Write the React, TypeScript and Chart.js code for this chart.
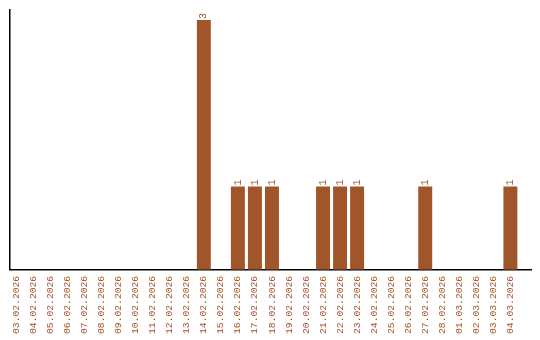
import React, { useEffect, useRef } from "react";
import { Chart, registerables } from "chart.js";

Chart.register(...registerables);

const categories = [
  "03.02.2026", "04.02.2026", "05.02.2026", "06.02.2026", "07.02.2026",
  "08.02.2026", "09.02.2026", "10.02.2026", "11.02.2026", "12.02.2026",
  "13.02.2026", "14.02.2026", "15.02.2026", "16.02.2026", "17.02.2026",
  "18.02.2026", "19.02.2026", "20.02.2026", "21.02.2026", "22.02.2026",
  "23.02.2026", "24.02.2026", "25.02.2026", "26.02.2026", "27.02.2026",
  "28.02.2026", "01.03.2026", "02.03.2026", "03.03.2026", "04.03.2026",
];
const counts = [
  0, 0, 0, 0, 0,
  0, 0, 0, 0, 0,
  0, 3, 0, 1, 1,
  1, 0, 0, 1, 1,
  1, 0, 0, 0, 1,
  0, 0, 0, 0, 1,
];

const BROWN = "#A0552A";
const FONT = "'Liberation Mono', 'Courier New', monospace";

const valueLabels = {
  id: "valueLabels",
  afterDatasetsDraw(chart: any) {
    const ctx = chart.ctx;
    const meta = chart.getDatasetMeta(0);
    ctx.save();
    ctx.fillStyle = BROWN;
    ctx.font = `10px ${FONT}`;
    ctx.textAlign = "left";
    ctx.textBaseline = "middle";
    meta.data.forEach((bar: any, i: number) => {
      const v = counts[i];
      if (!v) return;
      ctx.save();
      ctx.translate(bar.x, bar.y - 1);
      ctx.rotate(-Math.PI / 2);
      ctx.fillText(String(v), 0, 0);
      ctx.restore();
    });
    ctx.restore();
  },
};

export default function App() {
  const ref = useRef<HTMLCanvasElement>(null);
  useEffect(() => {
    document.body.style.margin = "0";
    const chart = new Chart(ref.current!, {
      type: "bar",
      data: {
        labels: categories,
        datasets: [
          {
            data: counts,
            backgroundColor: BROWN,
            borderWidth: 0,
            barPercentage: 0.82,
            categoryPercentage: 1,
          },
        ],
      },
      options: {
        animation: false,
        responsive: false,
        maintainAspectRatio: false,
        layout: { padding: { left: 2, right: 9, top: 10, bottom: 0 } },
        plugins: { legend: { display: false }, tooltip: { enabled: false } },
        scales: {
          x: {
            grid: { display: false, drawTicks: false, tickLength: 0 },
            border: { display: true, color: "#000", width: 1.5 },
            afterBuildTicks: (scale: any) => {
              // leave extra empty room at the right end of the axis
              scale._startValue = -0.38;
              scale._valueRange = 30.59;
            },
            ticks: {
              color: BROWN,
              font: { family: FONT, size: 9.7 },
              minRotation: 90,
              maxRotation: 90,
              autoSkip: false,
              padding: 6,
            },
          },
          y: {
            min: 0,
            max: 3.12,
            grid: { display: false },
            border: { display: true, color: "#000", width: 1.5 },
            ticks: { display: false },
          },
        },
      },
      plugins: [valueLabels],
    });
    return () => chart.destroy();
  }, []);
  return (
    <div style={{ width: 540, height: 340 }}>
      <canvas ref={ref} width={540} height={340} style={{ width: 540, height: 340 }} />
    </div>
  );
}
